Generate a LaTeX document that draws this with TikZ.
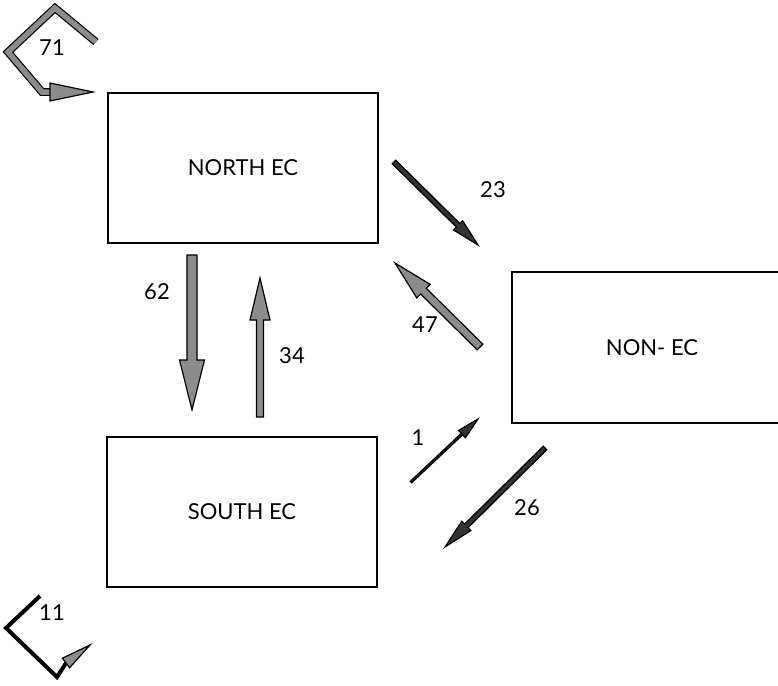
\documentclass[tikz,border=0pt]{standalone}
\usepackage{fontspec}
\setmainfont{Lato}
\usetikzlibrary{calc}
\definecolor{flowgray}{gray}{0.55}

% straight flow arrow: [options] tail, tip, half shaft, half head, head length
\newcommand\flowarrow[6][]{%
  \coordinate (fb) at ($(#3)!#6!(#2)$);
  \filldraw[flow, #1] ($(#2)!#4!90:(#3)$) -- ($(fb)!#4!90:(#3)$) -- ($(fb)!#5!90:(#3)$)
    -- (#3) -- ($(fb)!#5!-90:(#3)$) -- ($(fb)!#4!-90:(#3)$) -- ($(#2)!#4!-90:(#3)$) -- cycle;
}
% head only: base, tip, half head
\newcommand\flowhead[3]{%
  \filldraw[flow] ($(#1)!#3!90:(#2)$) -- (#2) -- ($(#1)!#3!-90:(#2)$) -- cycle;
}

\begin{document}
\begin{tikzpicture}[x=1pt, y=-1pt,
    region/.style={draw, line width=1.3pt, minimum width=270pt, minimum height=150pt},
    flow/.style={draw=black, fill=flowgray, line width=1.2pt, line join=miter},
    thin flow/.style={fill=black!80},
    loopline/.style={line width=1.2pt, double=flowgray, line join=miter},
    every node/.style={font=\fontsize{22}{26}\selectfont}]
  \useasboundingbox (0,0) rectangle (778,685);

  % regions
  \node[region] (north) at (243,168) {NORTH EC};
  \node[region] (south) at (242,512) {SOUTH EC};
  \node[region, minimum width=280pt, minimum height=151pt] (nonec) at (652,347.5) {NON- EC};

  % north <-> south
  \coordinate (ns1) at (192,255);  \coordinate (ns2) at (192,410);
  \coordinate (sn1) at (260,417);  \coordinate (sn2) at (260,278);
  \flowarrow{ns1}{ns2}{5pt}{12.5pt}{50pt}
  \flowarrow{sn1}{sn2}{3.5pt}{10pt}{42pt}
  \node (l62) at (157,292) {62};
  \node (l34) at (292,356) {34};

  % north <-> non-ec
  \coordinate (nx1) at (394,162);  \coordinate (nx2) at (478,245);
  \coordinate (xn1) at (480,347);  \coordinate (xn2) at (395,263);
  \flowarrow[thin flow]{nx1}{nx2}{2.5pt}{6.5pt}{28pt}
  \flowarrow{xn1}{xn2}{4pt}{9.5pt}{40pt}
  \node (l23) at (493,190) {23};
  \node (l47) at (425,325) {47};

  % south <-> non-ec
  \coordinate (sx1) at (411,482);  \coordinate (sx2) at (478,419);
  \coordinate (xs1) at (545,448);  \coordinate (xs2) at (445,547);
  \flowarrow[thin flow]{sx1}{sx2}{1pt}{5pt}{22pt}
  \flowarrow[thin flow]{xs1}{xs2}{2.5pt}{6.5pt}{30pt}
  \node (l1) at (418,438) {1};
  \node (l26) at (527,508) {26};

  % loops
  \coordinate (na) at (96,42);  \coordinate (nb) at (55,8);
  \coordinate (nc) at (8,52);   \coordinate (nd) at (42,92);
  \coordinate (ne) at (50,92);  \coordinate (nf) at (93,92);
  \draw[loopline, double distance=5.5pt] (na) -- (nb) -- (nc) -- (nd) -- (ne);
  \flowhead{ne}{nf}{9pt}
  \node (l71) at (52,48) {71};

  \coordinate (sa) at (40,596); \coordinate (sb) at (6,628);
  \coordinate (sc) at (57,677); \coordinate (sd) at (66,663);
  \coordinate (se) at (90,645);
  \draw[line width=4pt, line join=miter] (sa) -- (sb) -- (sc) -- (sd);
  \flowhead{sd}{se}{6pt}
  \node (l11) at (52,613) {11};
\end{tikzpicture}
\end{document}
